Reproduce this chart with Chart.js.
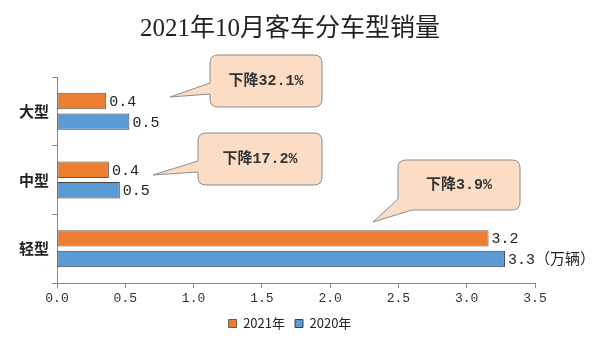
<!DOCTYPE html>
<html>
<head>
<meta charset="utf-8">
<script src="https://cdn.jsdelivr.net/npm/chart.js@4/dist/chart.umd.min.js"></script>
<style>
  html, body { margin: 0; padding: 0; background: #fff; }
  #wrap { width: 600px; height: 360px; }
</style>
</head>
<body>
<div id="wrap"><canvas id="salesChart"></canvas></div>
<script>
// ---------- Data ----------
const categories = ["大型", "中型", "轻型"];
const sales2021 = [0.36, 0.38, 3.16];
const sales2020 = [0.53, 0.46, 3.28];
const xTicks = [0, 0.5, 1.0, 1.5, 2.0, 2.5, 3.0, 3.5];
const unitText = "（万辆）";
const dropLabels = ["下降32.1%", "下降17.2%", "下降3.9%"];

// callout boxes (pixel layout, not data)
const callouts = [
  { box: [210, 55, 322, 107], tail: [[210, 83], [210, 94], [170, 97]] },
  { box: [198, 133, 322, 185], tail: [[198, 161], [198, 172], [153, 175]] },
  { box: [398, 160, 520, 210], tail: [[398, 199], [412, 210], [373, 222]] }
];

const monoCjk = '"Liberation Mono", "Noto Sans CJK SC", monospace';
const serifCjk = '"Liberation Serif", "Noto Sans CJK SC", serif';

// ---------- Plugins ----------
const valueLabels = {
  id: "valueLabels",
  afterDatasetsDraw(chart) {
    const ctx = chart.ctx;
    ctx.save();
    ctx.font = "15px " + monoCjk;
    ctx.fillStyle = "#222";
    ctx.textAlign = "left";
    ctx.textBaseline = "middle";
    chart.data.datasets.forEach((ds, di) => {
      const meta = chart.getDatasetMeta(di);
      meta.data.forEach((bar, i) => {
        let txt = ds.data[i].toFixed(1);
        if (di === 1 && i === ds.data.length - 1) txt += unitText;
        ctx.fillText(txt, bar.x + 3, bar.y + 1);
      });
    });
    ctx.restore();
  }
};

const calloutBoxes = {
  id: "calloutBoxes",
  afterDraw(chart) {
    const ctx = chart.ctx;
    ctx.save();
    callouts.forEach((c, i) => {
      const [x1, y1, x2, y2] = c.box;
      const r = 8;
      ctx.beginPath();
      ctx.moveTo(x1 + r, y1);
      ctx.lineTo(x2 - r, y1);
      ctx.quadraticCurveTo(x2, y1, x2, y1 + r);
      ctx.lineTo(x2, y2 - r);
      ctx.quadraticCurveTo(x2, y2, x2 - r, y2);
      if (i === 2) {
        ctx.lineTo(c.tail[1][0], y2);
        ctx.lineTo(c.tail[2][0], c.tail[2][1]);
        ctx.lineTo(x1, c.tail[0][1]);
        ctx.lineTo(x1, y1 + r);
      } else {
        ctx.lineTo(x1 + r, y2);
        ctx.quadraticCurveTo(x1, y2, x1, y2 - r);
        ctx.lineTo(x1, c.tail[1][1]);
        ctx.lineTo(c.tail[2][0], c.tail[2][1]);
        ctx.lineTo(x1, c.tail[0][1]);
        ctx.lineTo(x1, y1 + r);
      }
      ctx.quadraticCurveTo(x1, y1, x1 + r, y1);
      ctx.closePath();
      ctx.fillStyle = "#fbdcc5";
      ctx.fill();
      ctx.strokeStyle = "#8c8c8c";
      ctx.lineWidth = 1;
      ctx.stroke();

      ctx.font = "bold 15px " + monoCjk;
      ctx.fillStyle = "#333";
      ctx.textAlign = "center";
      ctx.textBaseline = "middle";
      ctx.fillText(dropLabels[i], (x1 + x2) / 2, (y1 + y2) / 2);
    });
    ctx.restore();
  }
};

// ---------- Chart ----------
function initChart() {
  const ctx = document.getElementById("salesChart").getContext("2d");
  new Chart(ctx, {
    type: "bar",
    data: {
      labels: categories,
      datasets: [
        {
          label: "2021年",
          data: sales2021,
          backgroundColor: "#ed7d31",
          borderColor: "#5a5a5a",
          borderWidth: 1,
          borderSkipped: false,
          categoryPercentage: 0.6,
          barPercentage: 0.8
        },
        {
          label: "2020年",
          data: sales2020,
          backgroundColor: "#5b9bd5",
          borderColor: "#404040",
          borderWidth: 1,
          borderSkipped: false,
          categoryPercentage: 0.6,
          barPercentage: 0.8
        }
      ]
    },
    options: {
      indexAxis: "y",
      responsive: true,
      maintainAspectRatio: false,
      animation: false,
      layout: { padding: { left: 0, right: 20, top: 0, bottom: 20 } },
      scales: {
        x: {
          min: 0,
          max: 3.5,
          afterBuildTicks(scale) {
            scale.ticks = xTicks.map(v => ({ value: v }));
          },
          afterFit(scale) { scale.height = 24; },
          grid: { drawOnChartArea: false, tickLength: 5, color: "#888" },
          border: { color: "#888" },
          ticks: {
            padding: 3,
            color: "#333",
            font: { family: monoCjk, size: 13 },
            callback: v => Number(v).toFixed(1)
          }
        },
        y: {
          afterFit(scale) { scale.width = 57; },
          grid: { drawOnChartArea: false, offset: true, tickLength: 5, color: "#888" },
          border: { color: "#888" },
          ticks: {
            padding: 3,
            color: "#222",
            font: { family: '"Noto Sans CJK SC", sans-serif', size: 15, weight: "bold" }
          }
        },
        // empty right-hand spacer so the plot ends at 3.5 ≈ x=535
        spacer: {
          type: "category",
          position: "right",
          display: true,
          afterFit(scale) { scale.width = 45; },
          grid: { display: false },
          border: { display: false },
          ticks: { display: false }
        }
      },
      plugins: {
        title: {
          display: true,
          text: "2021年10月客车分车型销量",
          color: "#222",
          font: { family: serifCjk, size: 25, weight: "normal" },
          padding: { top: 14, bottom: 33 }
        },
        legend: {
          position: "bottom",
          labels: {
            boxWidth: 8,
            boxHeight: 8,
            color: "#222",
            font: { family: '"Noto Sans CJK SC", sans-serif', size: 13 },
            padding: 10
          }
        },
        tooltip: { enabled: false }
      }
    },
    plugins: [valueLabels, calloutBoxes]
  });
}

window.addEventListener("load", initChart);
</script>
</body>
</html>
